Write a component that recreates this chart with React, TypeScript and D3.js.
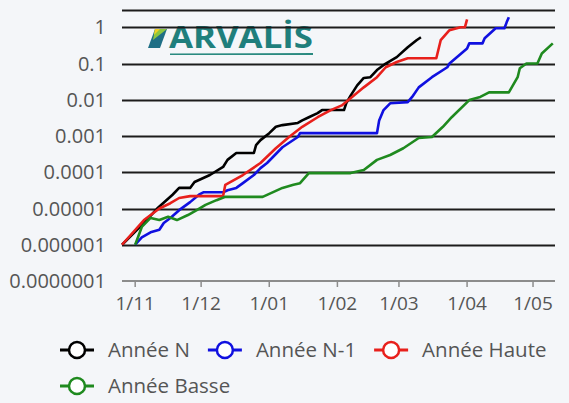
import { useEffect, useRef } from 'react';
import * as d3 from 'd3';

// Cumulated risk values (log scale)
const anneeN: [string, number][] = [
  ['2022-10-26', 1e-6], ['2022-11-05', 4e-6], ['2022-11-11', 1e-5], ['2022-11-18', 2.4e-5],
  ['2022-11-21', 3.7e-5], ['2022-11-26', 3.7e-5], ['2022-11-28', 5.4e-5], ['2022-12-05', 8.4e-5],
  ['2022-12-11', 1.4e-4], ['2022-12-13', 2.2e-4], ['2022-12-17', 3.4e-4], ['2022-12-25', 3.4e-4],
  ['2022-12-26', 5.6e-4], ['2022-12-28', 7.7e-4], ['2023-01-01', 1.2e-3], ['2023-01-04', 1.8e-3],
  ['2023-01-07', 2e-3], ['2023-01-14', 2.3e-3], ['2023-01-16', 2.7e-3], ['2023-01-19', 3.3e-3],
  ['2023-01-23', 4.3e-3], ['2023-01-25', 5.2e-3], ['2023-02-04', 5.2e-3], ['2023-02-05', 8e-3],
  ['2023-02-07', 1.3e-2], ['2023-02-10', 2.5e-2], ['2023-02-13', 4e-2], ['2023-02-16', 4.2e-2],
  ['2023-02-19', 6.6e-2], ['2023-02-23', 0.1], ['2023-02-28', 0.15], ['2023-03-05', 0.28],
  ['2023-03-09', 0.44], ['2023-03-11', 0.53],
];

const anneeN1: [string, number][] = [
  ['2022-11-01', 1e-6], ['2022-11-04', 1.6e-6], ['2022-11-08', 2.2e-6], ['2022-11-12', 2.6e-6],
  ['2022-11-14', 4e-6], ['2022-11-17', 5.5e-6], ['2022-11-21', 9e-6], ['2022-11-26', 1.5e-5],
  ['2022-11-30', 2.4e-5], ['2022-12-02', 2.8e-5], ['2022-12-11', 2.8e-5], ['2022-12-13', 3.2e-5],
  ['2022-12-17', 3.7e-5], ['2022-12-20', 5e-5], ['2022-12-25', 8.4e-5], ['2022-12-28', 1.3e-4],
  ['2022-12-31', 1.8e-4], ['2023-01-07', 4.9e-4], ['2023-01-14', 9.4e-4], ['2023-01-15', 1.2e-3],
  ['2023-02-19', 1.2e-3], ['2023-02-20', 2.7e-3], ['2023-02-22', 5.2e-3], ['2023-02-25', 8e-3],
  ['2023-03-05', 8.6e-3], ['2023-03-07', 1.2e-2], ['2023-03-10', 2.2e-2], ['2023-03-16', 4.2e-2],
  ['2023-03-23', 0.079], ['2023-03-24', 0.1], ['2023-04-01', 0.26], ['2023-04-02', 0.36],
  ['2023-04-08', 0.36], ['2023-04-09', 0.5], ['2023-04-14', 0.94], ['2023-04-18', 0.94],
  ['2023-04-19', 1.37], ['2023-04-20', 1.9],
];

const anneeHaute: [string, number][] = [
  ['2022-10-26', 1e-6], ['2022-11-05', 4.8e-6], ['2022-11-12', 1e-5], ['2022-11-17', 1.4e-5],
  ['2022-11-21', 1.95e-5], ['2022-11-26', 2.2e-5], ['2022-12-11', 2.2e-5], ['2022-12-12', 4.5e-5],
  ['2022-12-20', 8.4e-5], ['2022-12-28', 1.8e-4], ['2023-01-04', 4.6e-4], ['2023-01-10', 9.4e-4],
  ['2023-01-16', 1.8e-3], ['2023-01-23', 3.3e-3], ['2023-01-29', 5.2e-3], ['2023-02-03', 7e-3],
  ['2023-02-07', 1.1e-2], ['2023-02-13', 2.2e-2], ['2023-02-19', 4.2e-2], ['2023-02-23', 0.079],
  ['2023-02-28', 0.11], ['2023-03-05', 0.14], ['2023-03-18', 0.14], ['2023-03-20', 0.44],
  ['2023-03-24', 0.83], ['2023-03-29', 1.0], ['2023-03-31', 1.0], ['2023-04-01', 1.66],
];

const anneeBasse: [string, number][] = [
  ['2022-11-01', 1e-6], ['2022-11-04', 3.1e-6], ['2022-11-08', 5.5e-6], ['2022-11-12', 4.8e-6],
  ['2022-11-16', 5.9e-6], ['2022-11-20', 4.8e-6], ['2022-11-25', 6.6e-6], ['2022-11-29', 9e-6],
  ['2022-12-03', 1.26e-5], ['2022-12-08', 1.7e-5], ['2022-12-12', 2.1e-5], ['2022-12-29', 2.1e-5],
  ['2023-01-07', 3.7e-5], ['2023-01-12', 4.5e-5], ['2023-01-15', 5e-5], ['2023-01-19', 9.5e-5],
  ['2023-02-07', 9.5e-5], ['2023-02-13', 1.15e-4], ['2023-02-19', 2.2e-4], ['2023-02-25', 3e-4],
  ['2023-03-03', 4.6e-4], ['2023-03-10', 8.8e-4], ['2023-03-16', 9.4e-4], ['2023-03-21', 1.8e-3],
  ['2023-03-25', 3.3e-3], ['2023-04-02', 9.8e-3], ['2023-04-07', 1.2e-2], ['2023-04-11', 1.6e-2],
  ['2023-04-20', 1.6e-2], ['2023-04-24', 4.2e-2], ['2023-04-25', 0.074], ['2023-04-28', 0.1],
  ['2023-05-03', 0.1], ['2023-05-05', 0.19], ['2023-05-10', 0.36],
];

const seriesNames = ['Année N', 'Année N-1', 'Année Haute', 'Année Basse'];
const seriesData = [anneeN, anneeN1, anneeHaute, anneeBasse];
const seriesColors = ['#000000', '#1010e0', '#e8201c', '#1f8a1f'];

const xDomain = ['2022-10-26', '2023-05-11'];
const xTicks = ['2022-11-01', '2022-12-01', '2023-01-01', '2023-02-01', '2023-03-01', '2023-04-01', '2023-05-01'];
const yTicks = [1e-7, 1e-6, 1e-5, 1e-4, 1e-3, 1e-2, 1e-1, 1];
const yMax = 3;

const FONT = '"Open Sans", "Noto Sans", sans-serif';

function RiskChart() {
  const svgRef = useRef<SVGSVGElement>(null);
  const width = 569;
  const height = 403;

  useEffect(() => {
    if (!svgRef.current) return;
    const parse = d3.timeParse('%Y-%m-%d');
    const margin = { top: 10, right: 14, bottom: 122, left: 122 };
    const innerWidth = width - margin.left - margin.right;
    const innerHeight = height - margin.top - margin.bottom;

    const svg = d3.select(svgRef.current);
    svg.selectAll('*').remove();

    svg.append('rect').attr('width', width).attr('height', height).attr('fill', '#f4f6f9');

    const x = d3
      .scaleTime()
      .domain(xDomain.map((d) => parse(d) as Date))
      .range([0, innerWidth]);

    const y = d3.scaleLog().domain([yTicks[0], yMax]).range([innerHeight, 0]);

    const g = svg.append('g').attr('transform', `translate(${margin.left},${margin.top})`);

    // Logo watermark
    const logo = g.append('g').attr('transform', 'translate(23,0)');
    logo.append('path').attr('d', 'M3,38 L10,19 L22,19 L15,38 Z').attr('fill', '#1f6f86');
    logo.append('path').attr('d', 'M10,19 L22,19 L8,30 Z').attr('fill', '#8cc63f');
    logo.append('path').attr('d', 'M10,19 L15,19 L9,25 Z').attr('fill', '#f2d024');
    logo
      .append('text')
      .attr('x', 24)
      .attr('y', 38)
      .attr('font-family', FONT)
      .attr('font-weight', 700)
      .attr('font-size', 31)
      .attr('textLength', 144)
      .attr('lengthAdjust', 'spacingAndGlyphs')
      .attr('fill', '#1f7f7c')
      .text('ARVALİS');
    logo
      .append('path')
      .attr('d', 'M25,43.5 L168,43 L168,45 L25,45 Z')
      .attr('fill', '#2a8a80');

    // Grid (decades + top)
    g.append('g')
      .selectAll('line')
      .data([...yTicks.slice(1), yMax])
      .join('line')
      .attr('x1', 0)
      .attr('x2', innerWidth)
      .attr('y1', (d) => Math.round(y(d)) + 0.5)
      .attr('y2', (d) => Math.round(y(d)) + 0.5)
      .attr('stroke', '#1c1c1c')
      .attr('stroke-width', 1.8);

    // Y labels
    g.append('g')
      .selectAll('text')
      .data(yTicks)
      .join('text')
      .attr('x', -16)
      .attr('y', (d) => y(d))
      .attr('dy', '0.35em')
      .attr('text-anchor', 'end')
      .attr('font-family', FONT)
      .attr('font-size', 20)
      .attr('fill', '#555')
      .text((d) => d3.format('.7~f')(d));

    // X axis
    const xAxis = g.append('g').attr('transform', `translate(0,${innerHeight})`);
    xAxis
      .append('line')
      .attr('x1', 0)
      .attr('x2', innerWidth)
      .attr('stroke', '#8c8c8c')
      .attr('stroke-width', 2);
    const ticks = xAxis
      .selectAll('g.tick')
      .data(xTicks.map((d) => parse(d) as Date))
      .join('g')
      .attr('class', 'tick')
      .attr('transform', (d) => `translate(${x(d)},0)`);
    ticks.append('line').attr('y1', 0).attr('y2', 6).attr('stroke', '#8c8c8c').attr('stroke-width', 1.5);
    ticks
      .append('text')
      .attr('y', 22)
      .attr('dy', '0.35em')
      .attr('text-anchor', 'middle')
      .attr('font-family', FONT)
      .attr('font-size', 19)
      .attr('fill', '#555')
      .text((d) => d3.timeFormat('%-d/%m')(d));

    // Lines
    const line = d3
      .line<[string, number]>()
      .x((d) => x(parse(d[0]) as Date))
      .y((d) => y(d[1]));

    seriesData.forEach((data, i) => {
      g.append('path')
        .datum(data)
        .attr('fill', 'none')
        .attr('stroke', seriesColors[i])
        .attr('stroke-width', 2.6)
        .attr('stroke-linejoin', 'round')
        .attr('d', line);
    });

    // Legend (flow layout)
    const legend = svg.append('g');
    let lx = 60;
    let ly = 350;
    seriesNames.forEach((name, i) => {
      const item = legend.append('g').attr('transform', `translate(${lx},${ly})`);
      const txt = item
        .append('text')
        .attr('x', 48)
        .attr('dy', '0.35em')
        .attr('font-family', FONT)
        .attr('font-size', 20.5)
        .attr('fill', '#555')
        .text(name);
      const w = 48 + (txt.node() as SVGTextElement).getComputedTextLength();
      if (lx + w > width && lx > 60) {
        lx = 60;
        ly += 36;
        item.attr('transform', `translate(${lx},${ly})`);
      }
      item
        .append('line')
        .attr('x1', 0)
        .attr('x2', 34)
        .attr('stroke', seriesColors[i])
        .attr('stroke-width', 3);
      item
        .append('circle')
        .attr('cx', 17)
        .attr('r', 8)
        .attr('fill', '#fff')
        .attr('stroke', seriesColors[i])
        .attr('stroke-width', 2.5);
      lx += w + 18;
    });
  }, []);

  return <svg ref={svgRef} width={width} height={height} style={{ position: 'absolute', left: 0, top: 0 }} />;
}

export default function App() {
  return <RiskChart />;
}
